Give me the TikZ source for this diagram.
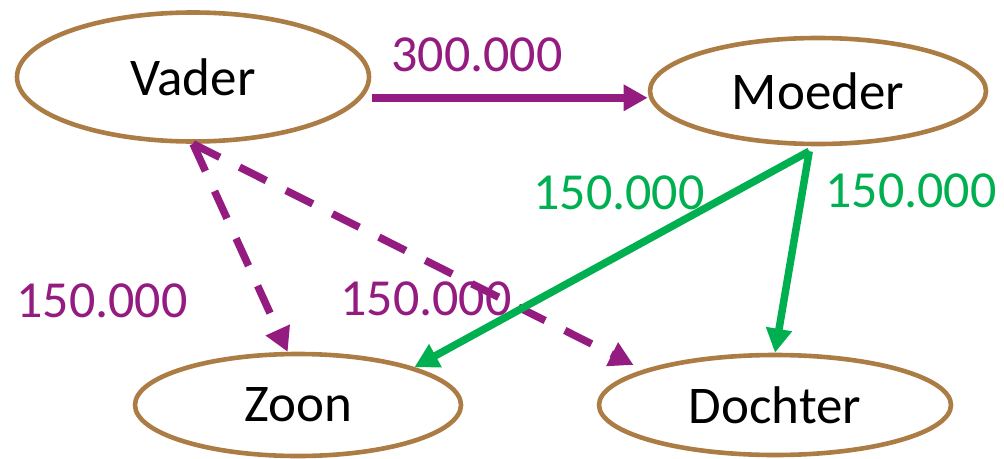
\documentclass[tikz,border=0pt]{standalone}
\usepackage{fontspec}
\setmainfont{Carlito}
\usetikzlibrary{shapes.geometric,arrows.meta}
\definecolor{lijn}{RGB}{172,124,69}
\definecolor{paars}{RGB}{148,27,128}
\definecolor{groen}{RGB}{0,176,80}
\begin{document}
\begin{tikzpicture}[x=1pt,y=-1pt,block/.style ={ellipse, draw=lijn, line width=4.6pt, inner sep=0pt, font=\fontsize{53}{62}\selectfont},bedrag/.style={inner sep=0pt, font=\fontsize{52}{62}\selectfont},pijl/.style={line width=7.5pt,-{Triangle[length=24pt,width=25pt]}}]
		\useasboundingbox (0,0) rectangle (1004,458);
		\node[block,minimum width=352pt,minimum height=129pt] (n1) at (193,77) {Vader};
		\node[block,minimum width=336pt,minimum height=106pt] (n2) at (818,91) {Moeder};
		\node[block,minimum width=326pt,minimum height=102pt] (n3) at (298,405) {Zoon};
		\node[block,minimum width=352pt,minimum height=100pt] (n4) at (775,405) {Dochter};
		\node[bedrag,text=paars] (l1) at (477,55) {300.000};
		\node[bedrag,text=groen] (l2) at (619,193) {150.000};
		\node[bedrag,text=groen] (l3) at (911,191) {150.000};
		\node[bedrag,text=paars] (l4) at (102,301) {150.000};
		\node[bedrag,text=paars] (l5) at (426,299) {150.000};
		\draw[pijl,paars] ([xshift=10pt]n1.-7)--(n1.-7 -| n2.west);
		\draw[pijl,paars,dash pattern=on 30pt off 22pt] (n1.south)--(n3.101);
		\draw[pijl,paars,dash pattern=on 30pt off 22pt] (n1.south)--([shift={(-14pt,3.5pt)}]n4.164);
		\draw[pijl,groen] ([yshift=-5pt]n2.-99)--(n3.18);
		\draw[pijl,groen] ([yshift=-5pt]n2.-99)--(n4.north);
	\end{tikzpicture}
\end{document}
